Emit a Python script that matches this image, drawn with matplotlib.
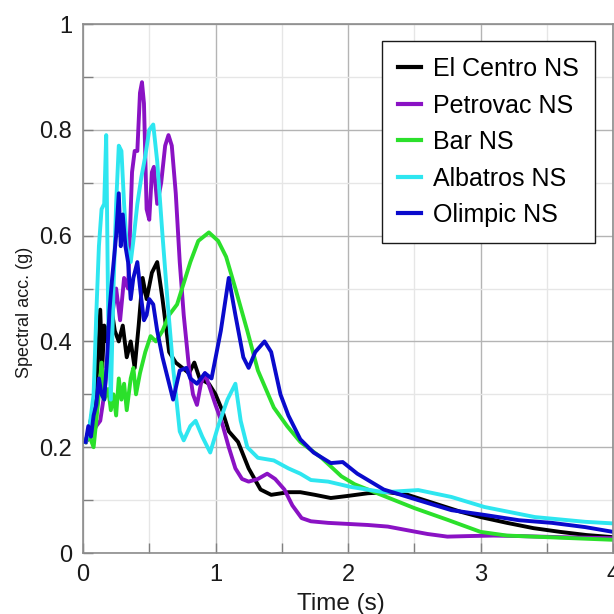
import matplotlib.pyplot as plt
import matplotlib.ticker as tick

plt.rcParams["font.family"] = ["Liberation Sans", "DejaVu Sans"]

# period (s) / spectral acceleration (g) for each record
el_centro_t = [0.02, 0.05, 0.08, 0.11, 0.13, 0.145, 0.16, 0.18, 0.21, 0.24, 0.27, 0.30, 0.33, 0.36,
               0.39, 0.42, 0.45, 0.48, 0.52, 0.56, 0.60, 0.65, 0.70, 0.75, 0.80, 0.84, 0.88, 0.95,
               1.00, 1.05, 1.10, 1.17, 1.25, 1.34, 1.42, 1.55, 1.64, 1.75, 1.87, 2.00, 2.15, 2.30,
               2.45, 2.65, 2.85, 3.00, 3.20, 3.40, 3.60, 3.80, 4.00]
el_centro_v = [0.21, 0.24, 0.28, 0.35, 0.46, 0.35, 0.43, 0.40, 0.47, 0.42, 0.40, 0.43, 0.37, 0.40,
               0.35, 0.43, 0.52, 0.48, 0.53, 0.55, 0.48, 0.38, 0.36, 0.35, 0.34, 0.36, 0.33, 0.32,
               0.30, 0.27, 0.23, 0.21, 0.16, 0.12, 0.11, 0.115, 0.115, 0.11, 0.104, 0.108, 0.113, 0.115,
               0.11, 0.094, 0.078, 0.068, 0.057, 0.047, 0.040, 0.034, 0.030]

petrovac_t = [0.02, 0.06, 0.10, 0.13, 0.16, 0.19, 0.22, 0.25, 0.28, 0.31, 0.34, 0.37, 0.39, 0.41,
              0.43, 0.445, 0.46, 0.48, 0.50, 0.52, 0.535, 0.56, 0.59, 0.62, 0.645, 0.67, 0.70, 0.73,
              0.76, 0.80, 0.83, 0.86, 0.89, 0.92, 0.96, 1.00, 1.05, 1.10, 1.15, 1.20, 1.25, 1.32,
              1.39, 1.45, 1.52, 1.58, 1.65, 1.72, 1.85, 2.00, 2.15, 2.30, 2.45, 2.60, 2.75, 2.90,
              3.10, 3.30, 3.60, 4.00]
petrovac_v = [0.21, 0.22, 0.24, 0.25, 0.30, 0.38, 0.45, 0.50, 0.44, 0.52, 0.50, 0.72, 0.76, 0.76,
              0.87, 0.89, 0.85, 0.65, 0.63, 0.72, 0.73, 0.66, 0.70, 0.77, 0.79, 0.77, 0.68, 0.55,
              0.45, 0.35, 0.30, 0.28, 0.32, 0.34, 0.31, 0.28, 0.245, 0.20, 0.16, 0.14, 0.135, 0.14,
              0.15, 0.14, 0.12, 0.09, 0.066, 0.060, 0.057, 0.055, 0.053, 0.050, 0.043, 0.036, 0.031, 0.032,
              0.033, 0.032, 0.030, 0.028]

bar_t = [0.02, 0.05, 0.08, 0.10, 0.12, 0.14, 0.16, 0.19, 0.21, 0.23, 0.25, 0.27, 0.29, 0.31,
         0.33, 0.36, 0.38, 0.40, 0.43, 0.47, 0.51, 0.55, 0.60, 0.65, 0.71, 0.76, 0.81, 0.87,
         0.95, 1.02, 1.08, 1.15, 1.24, 1.32, 1.44, 1.54, 1.64, 1.80, 1.95, 2.05, 2.25, 2.50,
         2.76, 3.00, 3.20, 3.50, 4.00]
bar_v = [0.21, 0.22, 0.20, 0.25, 0.30, 0.36, 0.29, 0.31, 0.27, 0.30, 0.26, 0.33, 0.29, 0.32,
         0.27, 0.33, 0.35, 0.30, 0.34, 0.38, 0.41, 0.40, 0.42, 0.45, 0.47, 0.51, 0.55, 0.59,
         0.606, 0.59, 0.56, 0.50, 0.42, 0.345, 0.275, 0.24, 0.21, 0.18, 0.145, 0.13, 0.11, 0.085,
         0.062, 0.040, 0.033, 0.030, 0.025]

albatros_t = [0.02, 0.05, 0.08, 0.10, 0.12, 0.14, 0.16, 0.175, 0.19, 0.21, 0.23, 0.25, 0.27, 0.29,
              0.31, 0.33, 0.36, 0.38, 0.41, 0.44, 0.47, 0.50, 0.53, 0.56, 0.60, 0.64, 0.68, 0.73,
              0.76, 0.81, 0.85, 0.90, 0.96, 1.02, 1.09, 1.15, 1.19, 1.24, 1.32, 1.44, 1.55, 1.64,
              1.72, 1.85, 2.02, 2.27, 2.53, 2.78, 3.03, 3.41, 3.79, 4.00]
albatros_v = [0.21, 0.24, 0.30, 0.45, 0.58, 0.65, 0.66, 0.79, 0.45, 0.29, 0.50, 0.66, 0.77, 0.76,
              0.66, 0.58, 0.55, 0.59, 0.66, 0.71, 0.75, 0.80, 0.81, 0.74, 0.60, 0.47, 0.35, 0.23,
              0.213, 0.24, 0.25, 0.22, 0.19, 0.24, 0.29, 0.32, 0.25, 0.20, 0.18, 0.175, 0.16, 0.15,
              0.138, 0.135, 0.125, 0.115, 0.119, 0.106, 0.087, 0.068, 0.059, 0.056]

olimpic_t = [0.02, 0.04, 0.06, 0.08, 0.10, 0.12, 0.14, 0.16, 0.18, 0.20, 0.22, 0.25, 0.27, 0.285,
             0.30, 0.32, 0.34, 0.36, 0.38, 0.41, 0.44, 0.46, 0.48, 0.50, 0.53, 0.56, 0.60, 0.64,
             0.68, 0.73, 0.78, 0.81, 0.86, 0.92, 0.97, 1.04, 1.10, 1.15, 1.21, 1.25, 1.30, 1.37,
             1.42, 1.49, 1.55, 1.64, 1.74, 1.87, 1.96, 2.07, 2.27, 2.53, 2.78, 3.03, 3.29, 3.54,
             3.79, 4.00]
olimpic_v = [0.21, 0.24, 0.22, 0.26, 0.28, 0.33, 0.30, 0.29, 0.36, 0.46, 0.52, 0.60, 0.68, 0.58,
             0.64, 0.58, 0.55, 0.48, 0.52, 0.55, 0.48, 0.44, 0.45, 0.48, 0.47, 0.42, 0.37, 0.33,
             0.29, 0.345, 0.35, 0.33, 0.32, 0.34, 0.33, 0.42, 0.52, 0.45, 0.37, 0.35, 0.38, 0.40,
             0.38, 0.30, 0.26, 0.215, 0.19, 0.17, 0.172, 0.15, 0.12, 0.10, 0.081, 0.072, 0.062, 0.057,
             0.049, 0.040]

series = [
    ("El Centro NS", el_centro_t, el_centro_v, "#000000"),
    ("Petrovac NS", petrovac_t, petrovac_v, "#8A12C4"),
    ("Bar NS", bar_t, bar_v, "#2BE02B"),
    ("Albatros NS", albatros_t, albatros_v, "#2EE6F0"),
    ("Olimpic NS", olimpic_t, olimpic_v, "#0A0ACC"),
]

fig = plt.figure(figsize=(6.14, 6.14), dpi=100)
ax = fig.add_axes([0.1352, 0.0993, 0.8632, 0.8616])

for name, t, v, c in series:
    ax.plot(t, v, color=c, linewidth=2.8, label=name, solid_joinstyle="round")

ax.set_xlim(0, 4)
ax.set_ylim(0, 1)
ax.xaxis.set_major_locator(tick.MultipleLocator(1))
ax.xaxis.set_minor_locator(tick.MultipleLocator(0.5))
ax.yaxis.set_major_locator(tick.MultipleLocator(0.2))
ax.yaxis.set_minor_locator(tick.MultipleLocator(0.1))
ax.yaxis.set_major_formatter(tick.FuncFormatter(lambda y, _: "{:g}".format(round(y, 1))))

ax.grid(which="major", color="#b4b4b4", linewidth=1.0)
ax.grid(which="minor", color="#e6e6e6", linewidth=1.0)
ax.set_axisbelow(True)

for s in ax.spines.values():
    s.set_color("#8c8c8c")
    s.set_linewidth(1.2)

ax.tick_params(which="both", direction="in", colors="#808080", labelcolor="#1a1a1a",
               labelsize=17, top=False, right=False)
ax.tick_params(which="major", length=7, width=1.0)
ax.tick_params(which="minor", length=7, width=1.0)
ax.tick_params(axis="x", pad=8)
ax.tick_params(axis="y", pad=8)

ax.set_xlabel("Time (s)", fontsize=17.5, color="#1a1a1a")
ax.xaxis.set_label_coords(0.487, -0.075)
ax.set_ylabel("Spectral acc. (g)", fontsize=13, color="#1a1a1a")
ax.yaxis.set_label_coords(-0.095, 0.454)

leg = ax.legend(loc="upper right", bbox_to_anchor=(0.966, 0.968), borderaxespad=0,
                fontsize=18, fancybox=False, framealpha=1, edgecolor="#1a1a1a",
                handlelength=0.9, handletextpad=0.48, labelspacing=0.5, borderpad=0.65)
leg.get_frame().set_linewidth(1.0)
for line in leg.get_lines():
    line.set_linewidth(3.0)

plt.savefig("out.png", dpi=100)
